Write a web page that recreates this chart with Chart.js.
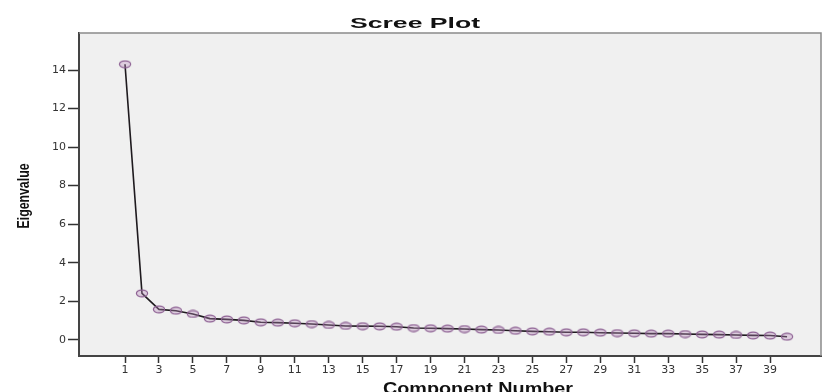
<!DOCTYPE html>
<html>
<head>
<meta charset="utf-8">
<script src="https://cdn.jsdelivr.net/npm/chart.js@4.4.1/dist/chart.umd.min.js"></script>
<style>
  html, body { margin: 0; padding: 0; background: #fff; }
  #chart { display: block; }
</style>
</head>
<body>
<canvas id="chart" width="822" height="392"></canvas>
<script>
const components = [1, 2, 3, 4, 5, 6, 7, 8, 9, 10, 11, 12, 13, 14, 15, 16, 17, 18, 19, 20,
    21, 22, 23, 24, 25, 26, 27, 28, 29, 30, 31, 32, 33, 34, 35, 36, 37, 38, 39, 40];
const eigenvalues = [14.30, 2.41, 1.58, 1.51, 1.34, 1.10, 1.06, 1.01, 0.91, 0.89,
    0.86, 0.82, 0.77, 0.72, 0.71, 0.70, 0.68, 0.61, 0.60, 0.58,
    0.56, 0.53, 0.51, 0.47, 0.44, 0.42, 0.39, 0.39, 0.37, 0.35,
    0.34, 0.32, 0.32, 0.30, 0.28, 0.27, 0.25, 0.23, 0.22, 0.16];
const xTicks = [1, 3, 5, 7, 9, 11, 13, 15, 17, 19, 21, 23, 25, 27, 29, 31, 33, 35, 37, 39];
const yTicks = [0, 2, 4, 6, 8, 10, 12, 14];

const chartTitle = "Scree Plot";
const xTitle = "Component Number";
const yTitle = "Eigenvalue";

// flattened circle marker, like the SPSS output
function makeMarker() {
    const c = document.createElement("canvas");
    c.width = 14;
    c.height = 9;
    const g = c.getContext("2d");
    g.beginPath();
    g.ellipse(7, 4.5, 5.6, 3.4, 0, 0, Math.PI * 2);
    g.fillStyle = "rgba(185, 140, 190, 0.35)";
    g.fill();
    g.lineWidth = 1.2;
    g.strokeStyle = "#8c5f92";
    g.stroke();
    return c;
}

// text squeezed/stretched to a given width
function drawFitText(ctx, text, x, y, font, width, angle) {
    ctx.save();
    ctx.font = font;
    const w = ctx.measureText(text).width;
    ctx.translate(x, y);
    if (angle) ctx.rotate(angle);
    ctx.scale(width / w, 1);
    ctx.fillStyle = "#111";
    ctx.textAlign = "center";
    ctx.fillText(text, 0, 0);
    ctx.restore();
}

const plotFrame = {
    id: "plotFrame",
    beforeDraw(chart) {
        const { ctx, chartArea: a } = chart;
        ctx.save();
        ctx.fillStyle = "#ffffff";
        ctx.fillRect(0, 0, chart.width, chart.height);
        ctx.fillStyle = "#f0f0f0";
        ctx.fillRect(a.left, a.top, a.right - a.left, a.bottom - a.top);
        ctx.restore();
    },
    afterDraw(chart) {
        const { ctx, chartArea: a } = chart;
        ctx.save();
        ctx.strokeStyle = "#8a8a8a";
        ctx.lineWidth = 1.5;
        ctx.beginPath();
        ctx.moveTo(a.left, a.top);
        ctx.lineTo(a.right, a.top);
        ctx.lineTo(a.right, a.bottom);
        ctx.stroke();
        ctx.restore();

        ctx.textBaseline = "alphabetic";
        drawFitText(ctx, chartTitle, 415, 28, "bold 14px 'Liberation Sans', Arial, sans-serif", 130, 0);
        drawFitText(ctx, xTitle, 478, 394, "bold 16px 'Liberation Sans', Arial, sans-serif", 190, 0);
        drawFitText(ctx, yTitle, 29, 196, "bold 16px 'Liberation Sans', Arial, sans-serif", 65, -Math.PI / 2);
    }
};

const ctx = document.getElementById("chart");

const chart = new Chart(ctx, {
    type: "line",
    data: {
        datasets: [{
            data: components.map((c, i) => ({ x: c, y: eigenvalues[i] })),
            borderColor: "#1e1a1e",
            borderWidth: 1.6,
            tension: 0,
            pointStyle: makeMarker(),
            pointRadius: 5,
            pointHoverRadius: 5
        }]
    },
    options: {
        responsive: false,
        animation: false,
        layout: {
            autoPadding: false,
            padding: { top: 33, right: 1, left: 0, bottom: 0 }
        },
        plugins: {
            legend: { display: false },
            tooltip: { enabled: false },
            title: { display: false }
        },
        scales: {
            x: {
                type: "linear",
                min: -1.71,
                max: 42.0,
                afterBuildTicks: (scale) => {
                    scale.ticks = xTicks.map(v => ({ value: v }));
                },
                afterFit: (scale) => {
                    scale.height = 36;
                    scale.paddingLeft = 0;
                    scale.paddingRight = 0;
                },
                grid: {
                    drawOnChartArea: false,
                    drawTicks: true,
                    tickLength: 7,
                    tickWidth: 1.5,
                    color: "#333"
                },
                border: { color: "#444", width: 2 },
                ticks: {
                    autoSkip: false,
                    maxRotation: 0,
                    padding: 1,
                    color: "#333",
                    font: { family: "'DejaVu Sans', sans-serif", size: 11 }
                }
            },
            y: {
                min: -0.84,
                max: 15.92,
                afterBuildTicks: (scale) => {
                    scale.ticks = yTicks.map(v => ({ value: v }));
                },
                afterFit: (scale) => {
                    scale.width = 79;
                    scale.paddingTop = 0;
                    scale.paddingBottom = 0;
                },
                grid: {
                    drawOnChartArea: false,
                    drawTicks: true,
                    tickLength: 11,
                    tickWidth: 1.5,
                    color: "#333"
                },
                border: { color: "#444", width: 2 },
                ticks: {
                    padding: 2,
                    color: "#333",
                    font: { family: "'DejaVu Sans', sans-serif", size: 11 }
                }
            }
        }
    },
    plugins: [plotFrame]
});
</script>
</body>
</html>
